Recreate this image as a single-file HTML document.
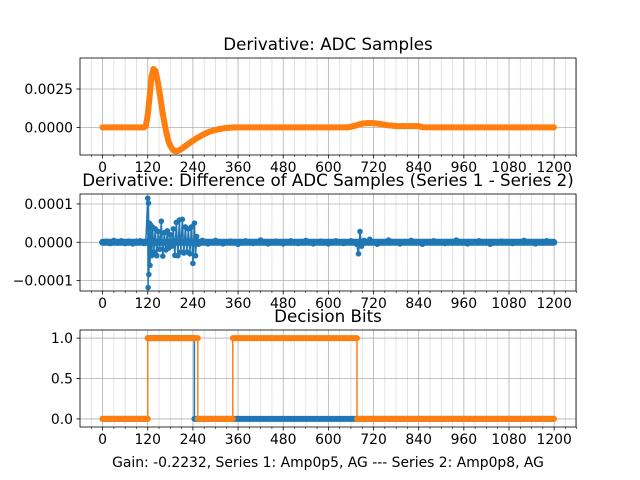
<!DOCTYPE html>
<html><head><meta charset="utf-8"><style>
html,body{margin:0;padding:0;background:#fff}
svg{display:block;font-family:"DejaVu Sans","Liberation Sans",sans-serif}
</style></head><body>
<svg id="fig" width="640" height="480" viewBox="0 0 640 480"></svg>
<script>
// ---- data ----
const xTicks = [0,120,240,360,480,600,720,840,960,1080,1200];
const s1x = [0,50,100,110,115,120,125,130,135,140,145,150,155,160,165,170,175,180,185,190,195,200,205,210,215,220,225,230,235,240,245,250,255,260,265,270,275,280,285,290,295,300,305,310,315,320,325,330,335,340,345,350,400,500,600,650,655,660,665,670,675,680,685,690,695,700,705,710,715,720,725,730,735,740,745,750,755,760,765,770,775,780,800,820,840,845,850,900,1000,1100,1199];
const s1y = [0,0,0,0,0.0001,0.0008,0.002,0.0033,0.0038,0.0037,0.0032,0.0025,0.0017,0.0009,0.0002,-0.0004,-0.0009,-0.0012,-0.0014,-0.00152,-0.00155,-0.00153,-0.00147,-0.0014,-0.00131,-0.00122,-0.00113,-0.00104,-0.00095,-0.00087,-0.00079,-0.00071,-0.00064,-0.00057,-0.0005,-0.00044,-0.00038,-0.00033,-0.00028,-0.00024,-0.0002,-0.00017,-0.00014,-0.00011,-0.00009,-0.00007,-0.00005,-0.00004,-0.00003,-0.00002,-0.00001,0,0,0,0,0,0.00002,0.00004,0.00007,0.0001,0.00014,0.00018,0.00021,0.00024,0.00026,0.00027,0.00028,0.00028,0.00028,0.00027,0.00026,0.00025,0.00023,0.00021,0.00019,0.00017,0.00015,0.00013,0.00012,0.00011,0.0001,0.00008,0.00008,0.00008,0.00008,0.00004,0.00001,0,0,0,0];
const s1Ticks = [0,0.0025];
const s1TickLabels = ["0.0000","0.0025"];
const dx = [0,10,20,30,40,50,60,70,80,90,100,110,115,120,121,122,123,124,126,128,130,133,136,140,144,148,152,156,160,164,168,172,176,180,184,188,192,196,200,204,208,212,216,220,224,228,232,236,240,244,247,250,255,265,280,300,320,340,360,380,400,420,440,460,480,500,520,540,560,580,600,620,640,660,675,680,684,688,695,710,730,760,790,820,850,880,910,940,970,1000,1030,1060,1090,1120,1150,1180,1199];
const dy = [0,0.3,-0.3,0.5,-0.2,0.4,-0.3,0.3,-0.4,0.3,0.4,-0.3,0.3,11.5,-11.8,10.2,-8.4,5,-6,4.5,-3.5,3.9,-2.5,3.5,-3.5,2.8,-1.8,5.5,-3.6,2.5,-2,3,-1.5,2,-1,3.5,-3.4,5.2,-3.5,5.8,-2.5,6,-2.8,4,-2.5,3.5,-3,4,-5.5,5,-3.5,1.5,-0.5,0.5,-0.4,0.5,-0.4,0.3,-0.5,0.4,-0.3,0.6,-0.4,0.3,-0.4,0.4,-0.3,0.5,-0.4,0.3,-0.4,0.4,-0.3,0.4,-0.5,-3,2.8,-1,0.5,0.8,-0.5,0.6,-0.4,0.5,-0.5,0.4,-0.3,0.6,-0.4,0.4,-0.5,0.3,-0.3,0.5,-0.4,0.4,0];
const dTicks = [-0.0001,0,0.0001];
const dTickLabels = ["\u22120.0001","0.0000","0.0001"];
const b1x = [0,120,120,244,244,1199];
const b1y = [0,0,1,1,0,0];
const b2x = [0,120,120,253,253,346,346,676,676,1199];
const b2y = [0,0,1,1,0,0,1,1,0,0];
const bTicks = [0,0.5,1];
const bTickLabels = ["0.0","0.5","1.0"];

const NS='http://www.w3.org/2000/svg';
const svg=document.getElementById('fig');
function el(tag,attrs,parent){const e=document.createElementNS(NS,tag);for(const k in attrs)e.setAttribute(k,attrs[k]);(parent||svg).appendChild(e);return e;}
const L=80,R=576,XMIN=-60,XMAX=1258;
const xs=v=>L+(v-XMIN)/(XMAX-XMIN)*(R-L);

function axes(top,bot,ymin,ymax,ticks,labels,name,title){
  const g=el('g',{});
  
  
  const ys=v=>bot-(v-ymin)/(ymax-ymin)*(bot-top);
  for(let m=-30;m<=1260;m+=30){ if(m%120===0||m<XMIN) continue; const x=xs(m);
    el('line',{x1:x,x2:x,y1:top,y2:bot,stroke:'#dcdcdc','stroke-width':0.8},g);
    el('line',{x1:x,x2:x,y1:bot,y2:bot+2,stroke:'#000','stroke-width':0.6},g);}
  xTicks.forEach(t=>{const x=xs(t);
    el('line',{x1:x,x2:x,y1:top,y2:bot,stroke:'#b0b0b0','stroke-width':0.8},g);
    el('line',{x1:x,x2:x,y1:bot,y2:bot+3.5,stroke:'#000','stroke-width':0.8},g);
    const tx=el('text',{x:x,y:bot+17,'font-size':13.9,'text-anchor':'middle'},g);tx.textContent=t;
    
    });
  ticks.forEach((t,i)=>{const y=ys(t);
    el('line',{x1:L,x2:R,y1:y,y2:y,stroke:'#b0b0b0','stroke-width':0.8},g);
    el('line',{x1:L-3.5,x2:L,y1:y,y2:y,stroke:'#000','stroke-width':0.8},g);
    const tx=el('text',{x:L-7,y:y+5,'font-size':13.9,'text-anchor':'end'},g);tx.textContent=labels[i];
    
    });
  const tt=el('text',{x:(L+R)/2,y:top-8,'font-size':16.7,'text-anchor':'middle'});tt.textContent=title;
  
  
  return {g,ys,top,bot};
}
function frame(a){el('rect',{x:L,y:a.top,width:R-L,height:a.bot-a.top,fill:'none',stroke:'#000','stroke-width':0.8},a.g);}
function series(a,X,Y,color,lw,r,name,scale){
  const pts=X.map((x,i)=>xs(x)+','+a.ys(Y[i]*(scale||1))).join(' ');
  const p=el('polyline',{points:pts,fill:'none',stroke:color,'stroke-width':lw,'stroke-linejoin':'round','stroke-linecap':'round'},a.g);
  
  
  if(r) X.forEach((x,i)=>el('circle',{cx:xs(x),cy:a.ys(Y[i]*(scale||1)),r:r,fill:color},a.g));
}
// plot 1
const a1=axes(58,155,-0.0018,0.00452,s1Ticks,s1TickLabels,'adc-derivative-plot','Derivative: ADC Samples');
series(a1,s1x,s1y,'#1f77b4',1.5,0,'series1-line');
series(a1,s1x,s1y,'#ff7f0e',6,3,'series2-line');
frame(a1);
// plot 2
const a2=axes(194,291,-0.000127,0.000126,dTicks,dTickLabels,'difference-plot','Derivative: Difference of ADC Samples (Series 1 - Series 2)');
const band=el('line',{x1:xs(dx[0]),x2:xs(dx[dx.length-1]),y1:a2.ys(0),y2:a2.ys(0),stroke:'#1f77b4','stroke-width':7,'stroke-linecap':'round'},a2.g);


series(a2,dx,dy,'#1f77b4',1.5,0,'difference-line',1e-5);
dx.forEach((x,i)=>el('circle',{cx:xs(x),cy:a2.ys(dy[i]*1e-5),r:2.8,fill:'#1f77b4'},a2.g));
frame(a2);
// plot 3
const a3=axes(330,427,-0.1,1.1,bTicks,bTickLabels,'decision-bits-plot','Decision Bits');
function bits(a,X,Y,color,name){
  for(let i=0;i<X.length-1;i++){
    const horiz=Y[i]===Y[i+1];
    const ln=el('line',{x1:xs(X[i]),x2:xs(X[i+1]),y1:a.ys(Y[i]),y2:a.ys(Y[i+1]),stroke:color,'stroke-width':horiz?6:1.5,'stroke-linecap':horiz?'round':'butt'},a.g);
    
    
  }
}
bits(a3,b1x,b1y,'#1f77b4','series1-bits');
bits(a3,b2x,b2y,'#ff7f0e','series2-bits');
frame(a3);
const xl=el('text',{x:(L+R)/2,y:467,'font-size':13.9,'text-anchor':'middle'});
xl.textContent='Gain: -0.2232, Series 1: Amp0p5, AG --- Series 2: Amp0p8, AG';


</script>
</body></html>
